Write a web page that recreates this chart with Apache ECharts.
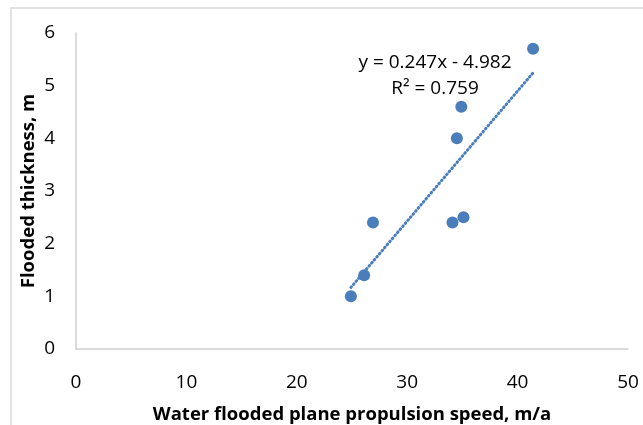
<!DOCTYPE html>
<html>
<head>
<meta charset="utf-8">
<script src="https://cdn.jsdelivr.net/npm/echarts@6/dist/echarts.min.js"></script>
<style>
  html, body { margin: 0; padding: 0; background: #fff; }
  #chart1 { width: 643px; height: 425px; }
</style>
</head>
<body>
<div id="chart1"></div>
<script>
// speed (m/a) vs flooded thickness (m)
var speed = [24.9, 26.1, 26.9, 34.1, 35.1, 34.5, 34.9, 41.4];
var thickness = [1.0, 1.4, 2.4, 2.4, 2.5, 4.0, 4.6, 5.7];
// linear trendline as printed on the chart
var slope = 0.247;
var intercept = -4.982;
var eqText = 'y = 0.247x - 4.982';
var r2Text = 'R\u00b2 = 0.759';

var points = [];
for (var i = 0; i < speed.length; i++) {
    points.push([speed[i], thickness[i]]);
}
var xLo = Math.min.apply(null, speed);
var xHi = Math.max.apply(null, speed);
var trend = [[xLo, slope * xLo + intercept], [xHi, slope * xHi + intercept]];

var font = "'Open Sans', sans-serif";
var myChart = echarts.init(document.getElementById('chart1'));

var option = {
    animation: false,
    textStyle: { fontFamily: font },
    grid: { left: 76, right: 15, top: 33, bottom: 76, outerBoundsMode: 'none' },
    graphic: [
        {
            type: 'rect',
            shape: { x: 11, y: 8, width: 700, height: 500 },
            style: { fill: 'none', stroke: '#d9d9d9', lineWidth: 1.5 }
        },
        {
            type: 'text',
            style: { text: eqText, x: 435, y: 63, align: 'center', verticalAlign: 'middle',
                     font: "19px 'Open Sans', sans-serif", fill: '#000' }
        },
        {
            type: 'text',
            style: { text: r2Text, x: 435, y: 89, align: 'center', verticalAlign: 'middle',
                     font: "19px 'Open Sans', sans-serif", fill: '#000' }
        }
    ],
    xAxis: {
        type: 'value', min: 0, max: 50, interval: 10,
        name: 'Water flooded plane propulsion speed, m/a',
        nameLocation: 'middle', nameGap: 56, nameMoveOverlap: false,
        nameTextStyle: { fontSize: 18.5, fontWeight: 'bold', color: '#000', fontFamily: font },
        axisLine: { show: true, lineStyle: { color: '#d0d0d0', width: 1.5 } },
        axisTick: { show: false },
        splitLine: { show: false },
        axisLabel: { fontSize: 19, color: '#000', margin: 24 }
    },
    yAxis: {
        type: 'value', min: 0, max: 6, interval: 1,
        name: 'Flooded thickness, m',
        nameLocation: 'middle', nameGap: 38, nameMoveOverlap: false,
        nameTextStyle: { fontSize: 18.5, fontWeight: 'bold', color: '#000', fontFamily: font },
        axisLine: { show: true, lineStyle: { color: '#d0d0d0', width: 1.5 } },
        axisTick: { show: false },
        splitLine: { show: false },
        axisLabel: { fontSize: 19, color: '#000', margin: 21 }
    },
    series: [
        {
            type: 'line',
            data: trend,
            symbol: 'none',
            lineStyle: { color: '#4a7ebb', width: 3, type: [0.8, 3.2], cap: 'round' },
            z: 1
        },
        {
            type: 'scatter',
            data: points,
            symbolSize: 12,
            itemStyle: { color: '#4a7ebb', opacity: 1 },
            z: 2
        }
    ]
};
myChart.setOption(option);
</script>
</body>
</html>
